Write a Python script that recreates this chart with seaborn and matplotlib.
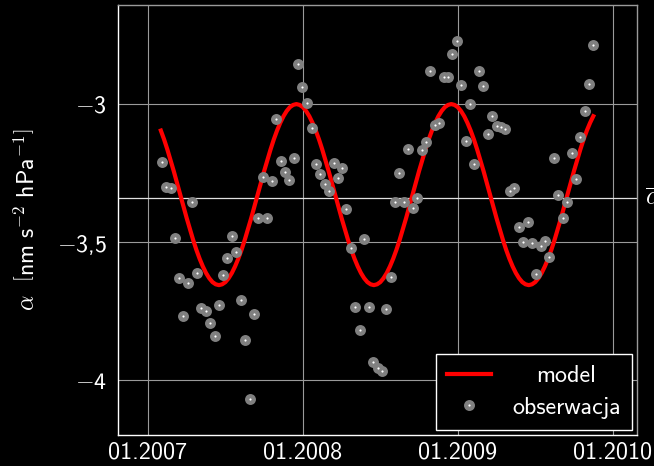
import pandas as pd
import seaborn as sns
import matplotlib.pyplot as plt
from matplotlib.lines import Line2D
from matplotlib.legend_handler import HandlerTuple

# observations (roughly every 10 days)
obs_dates = [
    "2007-02-03", "2007-02-13", "2007-02-24", "2007-03-06", "2007-03-16", "2007-03-26",
    "2007-04-06", "2007-04-16", "2007-04-27", "2007-05-06", "2007-05-19", "2007-05-27",
    "2007-06-08", "2007-06-18", "2007-06-28", "2007-07-08", "2007-07-19", "2007-07-29",
    "2007-08-09", "2007-08-19", "2007-08-30", "2007-09-09", "2007-09-18", "2007-09-29",
    "2007-10-10", "2007-10-20", "2007-10-31", "2007-11-10", "2007-11-20", "2007-12-01",
    "2007-12-11", "2007-12-22", "2007-12-31", "2008-01-11", "2008-01-22", "2008-02-01",
    "2008-02-11", "2008-02-22", "2008-03-04", "2008-03-14", "2008-03-24", "2008-04-03",
    "2008-04-13", "2008-04-24", "2008-05-04", "2008-05-15", "2008-05-25", "2008-06-05",
    "2008-06-15", "2008-06-26", "2008-07-06", "2008-07-16", "2008-07-27", "2008-08-06",
    "2008-08-16", "2008-08-27", "2008-09-06", "2008-09-17", "2008-09-27", "2008-10-08",
    "2008-10-17", "2008-10-27", "2008-11-07", "2008-11-18", "2008-11-29", "2008-12-09",
    "2008-12-18", "2008-12-29", "2009-01-09", "2009-01-20", "2009-01-30", "2009-02-09",
    "2009-02-19", "2009-03-01", "2009-03-12", "2009-03-22", "2009-04-02", "2009-04-12",
    "2009-04-23", "2009-05-04", "2009-05-14", "2009-05-24", "2009-06-03", "2009-06-14",
    "2009-06-24", "2009-07-04", "2009-07-15", "2009-07-26", "2009-08-04", "2009-08-15",
    "2009-08-25", "2009-09-05", "2009-09-15", "2009-09-26", "2009-10-06", "2009-10-16",
    "2009-10-27", "2009-11-06", "2009-11-16",
]
obs_alpha = [
    -3.211, -3.300, -3.305, -3.486, -3.629, -3.767,
    -3.650, -3.354, -3.613, -3.740, -3.750, -3.792,
    -3.842, -3.729, -3.621, -3.559, -3.478, -3.537,
    -3.710, -3.855, -4.070, -3.760, -3.414, -3.263,
    -3.411, -3.278, -3.053, -3.205, -3.245, -3.275,
    -3.196, -2.855, -2.939, -2.996, -3.088, -3.218,
    -3.255, -3.291, -3.315, -3.214, -3.269, -3.231,
    -3.379, -3.523, -3.736, -3.819, -3.490, -3.736,
    -3.936, -3.958, -3.967, -3.743, -3.628, -3.356,
    -3.250, -3.354, -3.163, -3.377, -3.339, -3.166,
    -3.138, -2.879, -3.076, -3.070, -2.903, -2.902,
    -2.819, -2.771, -2.931, -3.134, -3.000, -3.217,
    -2.879, -2.936, -3.108, -3.043, -3.080, -3.082,
    -3.091, -3.314, -3.304, -3.444, -3.501, -3.429,
    -3.505, -3.616, -3.514, -3.496, -3.553, -3.197,
    -3.330, -3.413, -3.354, -3.176, -3.272, -3.118,
    -3.024, -2.926, -2.787,
]

model_start, model_end = "2007-02-01", "2009-11-16"
model_alpha = [
    -3.096, -3.128, -3.164, -3.203, -3.243, -3.285, -3.328, -3.371, -3.413, -3.453,
    -3.492, -3.528, -3.560, -3.588, -3.612, -3.631, -3.645, -3.653, -3.656, -3.653,
    -3.645, -3.631, -3.612, -3.588, -3.560, -3.528, -3.492, -3.453, -3.413, -3.371,
    -3.328, -3.285, -3.243, -3.203, -3.164, -3.128, -3.096, -3.068, -3.044, -3.025,
    -3.011, -3.003,
    -3.000, -3.003, -3.011, -3.025, -3.044, -3.068, -3.096, -3.128, -3.164, -3.203,
    -3.243, -3.285, -3.328, -3.371, -3.413, -3.453, -3.492, -3.528, -3.560, -3.588,
    -3.612, -3.631, -3.645, -3.653, -3.656, -3.653, -3.645, -3.631, -3.612, -3.588,
    -3.560, -3.528, -3.492, -3.453, -3.413, -3.371, -3.328, -3.285, -3.243, -3.203,
    -3.164, -3.128, -3.096, -3.068, -3.044, -3.025, -3.011, -3.003,
    -3.000, -3.003, -3.011, -3.025, -3.044, -3.068, -3.096, -3.128, -3.164, -3.203,
    -3.243, -3.285, -3.328, -3.371, -3.413, -3.453, -3.492, -3.528, -3.560, -3.588,
    -3.612, -3.631, -3.645, -3.653, -3.656, -3.653, -3.645, -3.631, -3.612, -3.588,
    -3.560, -3.528, -3.492, -3.453, -3.413, -3.371, -3.328, -3.285, -3.243, -3.203,
    -3.164, -3.128, -3.096, -3.068, -3.044,
]
alpha_mean = -3.342

x_ticks = ["2007-01-01", "2008-01-01", "2009-01-01", "2010-01-01"]
x_tick_labels = ["01.2007", "01.2008", "01.2009", "01.2010"]
y_ticks = [-4.0, -3.5, -3.0]
y_tick_labels = [r"$-$4", r"$-$3,5", r"$-$3"]

obs = pd.DataFrame({"date": pd.to_datetime(obs_dates), "alpha": obs_alpha})
model = pd.DataFrame({
    "date": pd.date_range(model_start, model_end, periods=len(model_alpha)),
    "alpha": model_alpha,
})

plt.rcParams["font.family"] = "cmss10"
plt.rcParams["mathtext.fontset"] = "cm"
plt.rcParams["axes.formatter.use_mathtext"] = True

fig = plt.figure(figsize=(6.54, 4.66), dpi=100, facecolor="black")
ax = fig.add_axes([118 / 654, 1 - 435 / 466, 519 / 654, 430 / 466])
ax.set_facecolor("black")

fs = 17.3
grid_c = "#9a9a9a"

for t in x_ticks:
    ax.axvline(pd.Timestamp(t), color=grid_c, lw=0.8, zorder=0)
for v in y_ticks:
    ax.axhline(v, color=grid_c, lw=0.8, zorder=0)
ax.axhline(alpha_mean, color="#e0e0e0", lw=0.9, zorder=0)

sns.lineplot(data=model, x="date", y="alpha", ax=ax, color="#ff0000", lw=3, zorder=2)
sns.scatterplot(data=obs, x="date", y="alpha", ax=ax, color="#808080", s=62,
                linewidth=0, zorder=3)
sns.scatterplot(data=obs, x="date", y="alpha", ax=ax, color="white", s=2.5,
                linewidth=0, zorder=4)

ax.set_xlim(pd.Timestamp("2006-10-23"), pd.Timestamp("2010-02-27"))
ax.set_ylim(-4.199, -2.641)
ax.set_xticks(pd.to_datetime(x_ticks))
ax.set_xticklabels(x_tick_labels)
ax.set_yticks(y_ticks)
ax.set_yticklabels(y_tick_labels)
ax.tick_params(length=0, colors="white", labelsize=fs)
ax.tick_params(axis="x", pad=5)
ax.tick_params(axis="y", pad=8)
ax.set_xlabel("")
ax.set_ylabel(r"$\alpha\ \ \left[\mathsf{nm}\ \mathsf{s}^{-\mathsf{2}}\ \mathsf{hPa}^{-\mathsf{1}}\right]$",
              color="white", fontsize=fs, labelpad=12)

for side in ["left", "bottom"]:
    ax.spines[side].set_color("white")
for side in ["top", "right"]:
    ax.spines[side].set_color(grid_c)
for s in ax.spines.values():
    s.set_linewidth(1.0)

ax.text(1.016, alpha_mean, r"$\overline{\alpha}$", transform=ax.get_yaxis_transform(),
        color="white", fontsize=fs, ha="left", va="center", clip_on=False)

h_model = Line2D([], [], color="#ff0000", lw=3)
h_obs = (Line2D([], [], ls="", marker="o", markersize=7.9, color="#808080", markeredgewidth=0),
         Line2D([], [], ls="", marker="o", markersize=1.6, color="white", markeredgewidth=0))
leg = ax.legend([h_model, h_obs], ["model", "obserwacja"], loc="lower right",
                handler_map={tuple: HandlerTuple(ndivide=1)},
                fontsize=fs, frameon=True, fancybox=False, facecolor="black",
                edgecolor="white", framealpha=1, labelcolor="white",
                handlelength=1.8, borderaxespad=0.22, borderpad=0.45, labelspacing=0.4,
                handletextpad=0.9)
leg.get_frame().set_linewidth(1.0)

# centre the legend labels in their column, as in the original
fig.canvas.draw()
texts = leg.get_texts()
widths = [t.get_window_extent().width for t in texts]
for t, w in zip(texts, widths):
    t.set_x((max(widths) - w) / 2)

fig.savefig("out.png", dpi=100, facecolor="black")
